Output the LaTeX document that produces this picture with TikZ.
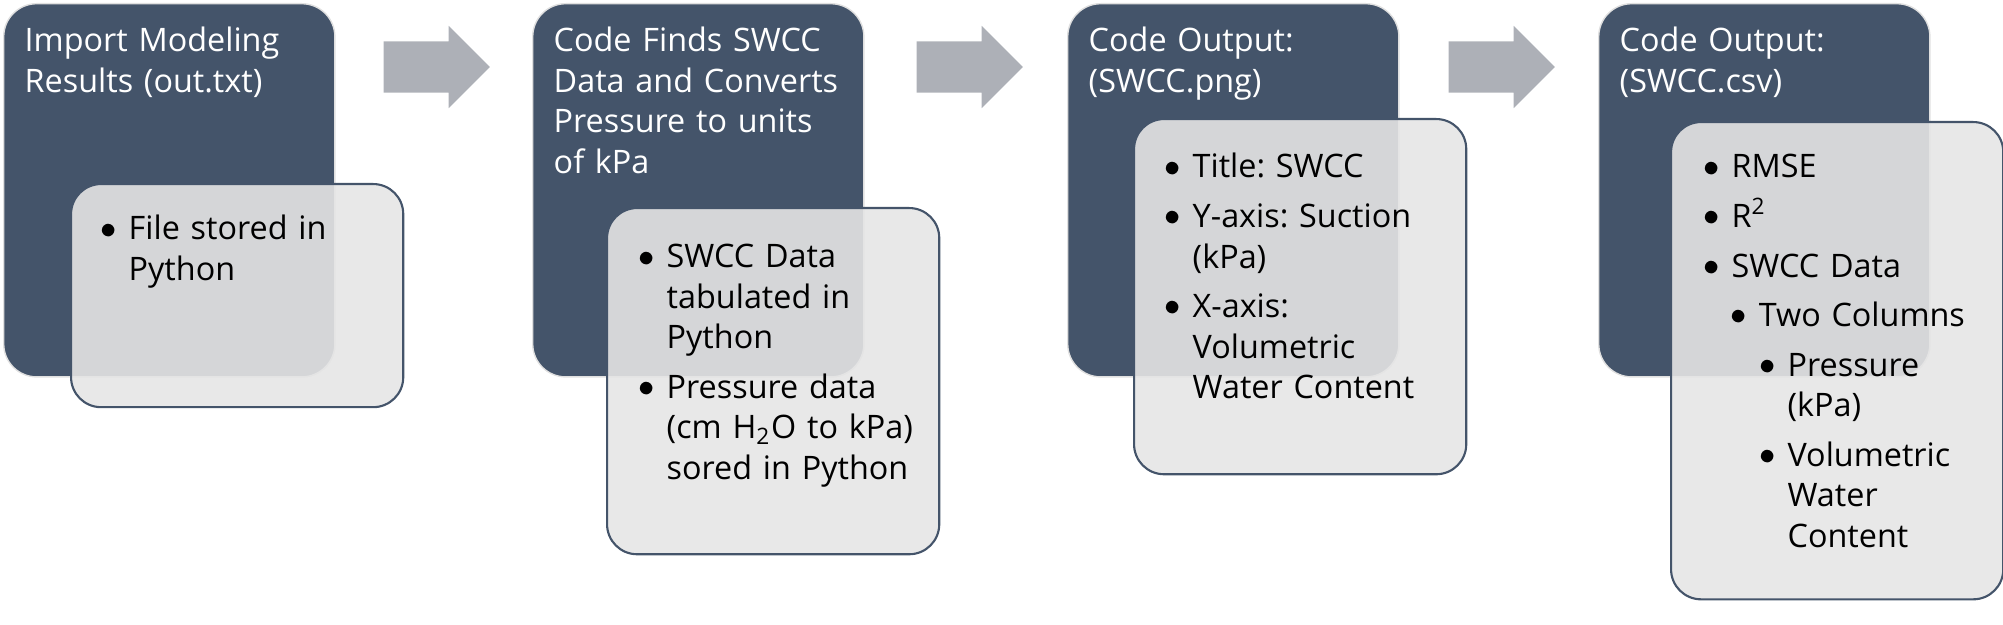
\documentclass[tikz,border=0pt]{standalone}
\usepackage{fontspec}
\setmainfont{Open Sans}
\usetikzlibrary{shapes.arrows}
\definecolor{slate}{HTML}{44546A}
\definecolor{panel}{HTML}{E5E5E5}
\definecolor{arrowgray}{HTML}{ADB0B7}
\newcommand\flowfont{\fontsize{9.2}{11.5}\selectfont\frenchspacing\parskip=2.6pt\parindent=0pt}
\newcommand\bul[2]{\leftskip=#1\relax\hskip-8pt\makebox[8pt][l]{\raisebox{0.5pt}{$\bullet$}}#2\par}
\tikzset{
  stagebox/.style={draw=black!12, line width=0.4pt, fill=slate, rounded corners=0.33cm, anchor=north west, inner sep=0pt, minimum width=3.31cm, minimum height=3.73cm},
  detailbox/.style={draw=slate, line width=0.6pt, fill=panel, fill opacity=0.9, rounded corners=0.3cm, anchor=north west, inner sep=0pt, minimum width=3.32cm},
  stagetitle/.style={text=white, anchor=base west, inner sep=0pt, text width=3.2cm, font=\flowfont},
  detailtext/.style={anchor=base west, inner sep=0pt, text width=2.9cm, font=\flowfont},
  nextarrow/.style={single arrow, fill=arrowgray, anchor=tail, inner xsep=0pt, inner ysep=0.25cm, minimum height=1.06cm, minimum width=0.81cm, single arrow head extend=0.155cm}
}
\begin{document}
\begin{tikzpicture}[x=0.01cm, y=-0.01cm]
  \useasboundingbox (0,0) rectangle (2003,625);
  % dark stage boxes
  \node[stagebox] (s1) at (3,3) {};
  \node[stagebox] (s2) at (532,3) {};
  \node[stagebox] (s3) at (1067,3) {};
  \node[stagebox] (s4) at (1598,3) {};
  % light detail boxes
  \node[detailbox, minimum height=2.23cm] (d1) at (70,183) {};
  \node[detailbox, minimum height=3.46cm] (d2) at (606,207) {};
  \node[detailbox, minimum height=3.55cm] (d3) at (1133,118) {};
  \node[detailbox, minimum height=4.77cm] (d4) at (1670,121) {};
  % arrows between stages
  \node[nextarrow] (a1) at (383,67) {};
  \node[nextarrow] (a2) at (916,67) {};
  \node[nextarrow] (a3) at (1448,67) {};
  % titles
  \node[stagetitle] (t1) at (24,52) {Import Modeling\newline Results (out.txt)};
  \node[stagetitle] (t2) at (553,52) {Code Finds SWCC\newline Data and Converts\newline Pressure to units\newline of kPa};
  \node[stagetitle] (t3) at (1088,52) {Code Output:\newline (SWCC.png)};
  \node[stagetitle] (t4) at (1619,52) {Code Output:\newline (SWCC.csv)};
  % bullet lists
  \node[detailtext] (b1) at (128,240) {\bul{0pt}{File stored in\newline Python}};
  \node[detailtext] (b2) at (666,268) {\bul{0pt}{SWCC Data\newline tabulated in\newline Python}\bul{0pt}{Pressure data\newline (cm H\textsubscript{2}O to kPa)\newline sored in Python}};
  \node[detailtext] (b3) at (1192,178) {\bul{0pt}{Title: SWCC}\bul{0pt}{Y-axis: Suction\newline (kPa)}\bul{0pt}{X-axis:\newline Volumetric\newline Water Content}};
  \node[detailtext] (b4) at (1731,178) {\bul{0pt}{RMSE}\bul{0pt}{R\textsuperscript{2}}\bul{0pt}{SWCC Data}\bul{7.7pt}{Two Columns}\bul{15.9pt}{Pressure\newline (kPa)}\bul{15.9pt}{Volumetric\newline Water\newline Content}};
\end{tikzpicture}
\end{document}
